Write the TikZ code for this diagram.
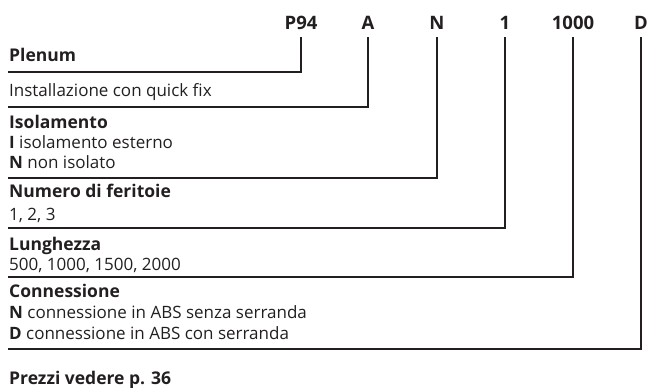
\documentclass[tikz,border=0pt]{standalone}
\usepackage{fontspec}
\setmainfont{Open Sans}
\usetikzlibrary{positioning}
\definecolor{ink}{HTML}{231F20}

\begin{document}
\begin{tikzpicture}[x=1pt,y=-1pt,color=ink,
  code/.style={anchor=base,inner sep=0pt,font=\bfseries\fontsize{18.5}{20}\selectfont},
  head/.style={anchor=base west,inner sep=0pt,font=\bfseries\fontsize{17.5}{19}\selectfont},
  body/.style={anchor=base west,inner sep=0pt,font=\fontsize{17}{19}\selectfont},
  lead/.style={line width=1.8pt,shorten <=8pt}]
\useasboundingbox (0,0) rectangle (649,388);

% codici
\node[code] (cP) at (301,29) {P94};
\node[code] (cA) at (368,29) {A};
\node[code] (cN) at (437,29) {N};
\node[code] (cF) at (505,29) {1};
\node[code] (cL) at (573,29) {1000};
\node[code] (cD) at (641,29) {D};

% descrizioni
\node[head] (plenum) at (9,61) {Plenum};
\node[body] (quick) at (9,96) {Installazione con quick fix};
\node[head] (iso) at (9,128) {Isolamento};
\node[body] (isoI) at (9,148) {\textbf{I} isolamento esterno};
\node[body] (isoN) at (9,168) {\textbf{N} non isolato};
\node[head] (fer) at (9,197) {Numero di feritoie};
\node[body] (ferv) at (9,220) {1, 2, 3};
\node[head] (lun) at (9,250) {Lunghezza};
\node[body] (lunv) at (9,270) {500, 1000, 1500, 2000};
\node[head] (con) at (9,297) {Connessione};
\node[body] (conN) at (9,318) {\textbf{N} connessione in ABS senza serranda};
\node[body] (conD) at (9,339) {\textbf{D} connessione in ABS con serranda};
\node[head] (prezzi) at (9,384) {Prezzi vedere p. 36};

% estremi delle linee
\coordinate (eP) at (8,72);
\coordinate (eA) at (8,107);
\coordinate (eN) at (8,178);
\coordinate (eF) at (8,228);
\coordinate (eL) at (8,277);
\coordinate (eD) at (8,349);

\draw[lead] (cP.south) |- (eP);
\draw[lead] (cA.south) |- (eA);
\draw[lead] (cN.south) |- (eN);
\draw[lead] (cF.south) |- (eF);
\draw[lead] (cL.south) |- (eL);
\draw[lead] (cD.south) |- (eD);
\end{tikzpicture}
\end{document}
